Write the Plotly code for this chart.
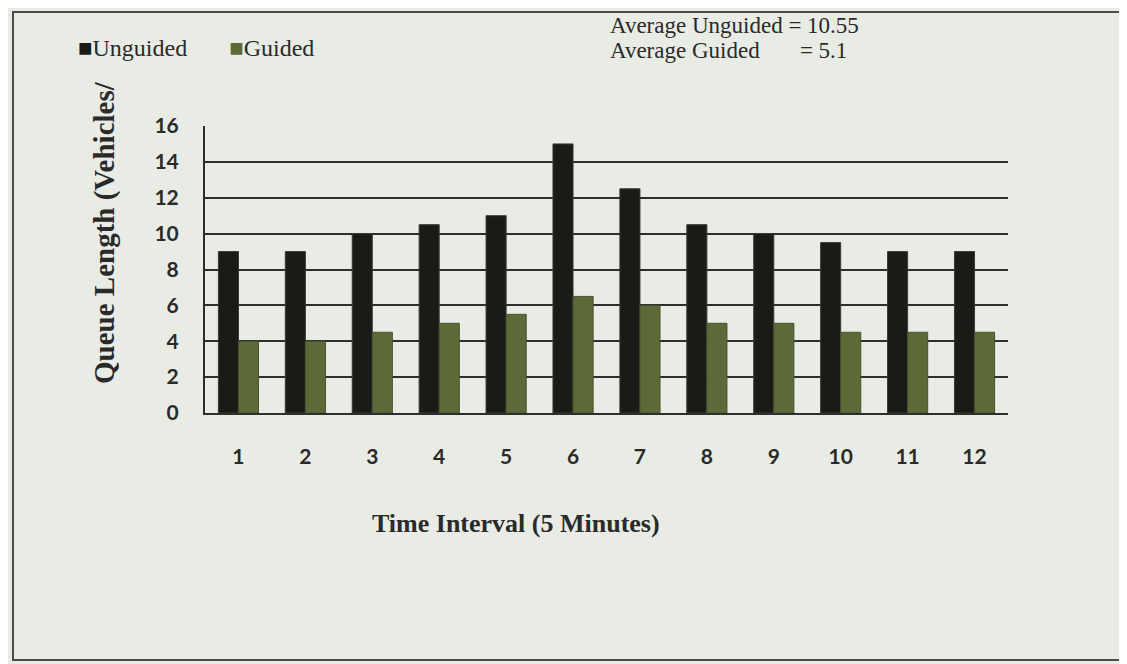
import plotly.graph_objects as go

categories = ["1", "2", "3", "4", "5", "6", "7", "8", "9", "10", "11", "12"]
unguided = [9, 9, 10, 10.5, 11, 15, 12.5, 10.5, 10, 9.5, 9, 9]
guided = [4, 4, 4.5, 5, 5.5, 6.5, 6, 5, 5, 4.5, 4.5, 4.5]
y_ticks = [0, 2, 4, 6, 8, 10, 12, 14, 16]
series_names = ["Unguided", "Guided"]
series_colors = ["#181b16", "#5d6937"]
avg_lines = ["Average Unguided = 10.55",
             "Average Guided&nbsp;&nbsp;&nbsp;&nbsp;&nbsp;&nbsp;&nbsp;= 5.1"]
x_title = "Time Interval (5 Minutes)"
y_title = "Queue Length (Vehicles/"

BG = "#e8ece5"
TXT = "#2a2a2a"
times = "Liberation Serif, Times New Roman, serif"

W, H = 1127, 664
ml, mr, mt, mb = 197, W - 1000, 118, H - 405
PW, PH = W - ml - mr, H - mt - mb


def px(x):
    return (x - ml) / PW


def py(y):
    return (H - mb - y) / PH


fig = go.Figure()
fig.add_trace(go.Bar(x=categories, y=unguided, name=series_names[0],
                     marker=dict(color=series_colors[0], line=dict(color="#3a3a36", width=1))))
fig.add_trace(go.Bar(x=categories, y=guided, name=series_names[1],
                     marker=dict(color=series_colors[1], line=dict(color="#4a5030", width=1))))

fig.update_layout(
    width=W, height=H,
    paper_bgcolor=BG, plot_bgcolor=BG,
    margin=dict(l=ml, r=mr, t=mt, b=mb),
    barmode="group", bargap=0.4, bargroupgap=0.0,
    showlegend=False,
    xaxis=dict(type="category", showgrid=False, showline=True, linecolor="#2e2e2e", linewidth=2,
               ticks="", tickfont=dict(family="Lato", size=21, color=TXT, weight="bold"),
               ticklabelstandoff=24),
    yaxis=dict(range=[0, 16], tickvals=y_ticks, showgrid=True, gridcolor="#2e2e2e", gridwidth=2,
               showline=True, linecolor="#2e2e2e", linewidth=2, zeroline=False, ticks="",
               tickfont=dict(family="Lato", size=21, color=TXT, weight="bold"), ticklabelstandoff=20),
)

# legend (drawn as text, like the original's compact square markers)
legend_text = ("<span style='color:%s;font-size:24px'>■</span>%s&nbsp;&nbsp;&nbsp;&nbsp;&nbsp;&nbsp;&nbsp;"
               "<span style='color:%s;font-size:24px'>■</span>%s"
               % (series_colors[0], series_names[0], series_colors[1], series_names[1]))
fig.add_annotation(xref="paper", yref="paper", x=px(68), y=py(40), xanchor="left", yanchor="middle",
                   showarrow=False, text=legend_text, font=dict(family=times, size=24, color=TXT))

fig.add_annotation(xref="paper", yref="paper", x=px(600), y=py(17), xanchor="left", yanchor="middle",
                   showarrow=False, align="left", text=avg_lines[0],
                   font=dict(family=times, size=23, color=TXT))
fig.add_annotation(xref="paper", yref="paper", x=px(600), y=py(43), xanchor="left", yanchor="middle",
                   showarrow=False, align="left", text=avg_lines[1],
                   font=dict(family=times, size=23, color=TXT))

fig.add_annotation(xref="paper", yref="paper", x=px(508), y=py(515), xanchor="center", yanchor="middle",
                   showarrow=False, text="<b>%s</b>" % x_title,
                   font=dict(family=times, size=26, color=TXT))
fig.add_annotation(xref="paper", yref="paper", x=px(96), y=py(225), xanchor="center", yanchor="middle",
                   showarrow=False, textangle=-90, text="<b>%s</b>" % y_title,
                   font=dict(family=times, size=29, color=TXT))

fig.add_shape(type="rect", xref="paper", yref="paper",
              x0=px(5), x1=px(1122), y0=py(652), y1=py(4),
              line=dict(color="#4a4a4a", width=2), layer="below")

fig.write_html("out.html")
